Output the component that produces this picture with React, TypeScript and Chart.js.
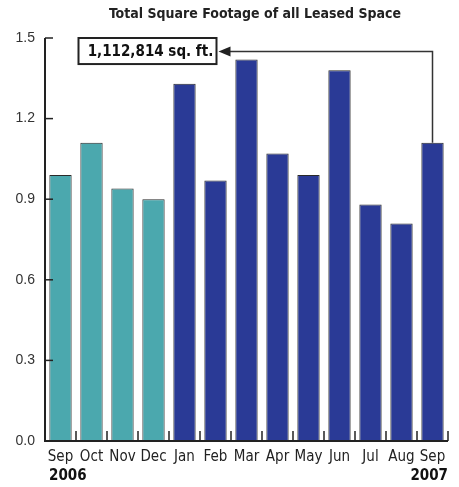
import React, { useEffect, useRef } from "react";
import { Chart, registerables } from "chart.js";

Chart.register(...registerables);

const months = ["Sep", "Oct", "Nov", "Dec", "Jan", "Feb", "Mar", "Apr", "May", "Jun", "Jul", "Aug", "Sep"];
const values = [0.99, 1.11, 0.94, 0.9, 1.33, 0.97, 1.42, 1.07, 0.99, 1.38, 0.88, 0.81, 1.11];
const years = ["2006", "2007"];
const yTicks = [0, 0.3, 0.6, 0.9, 1.2, 1.5];
const title = "Total Square Footage of all Leased Space";
const calloutText = "1,112,814 sq. ft.";
const colors2006 = "#4BA8AE";
const colors2007 = "#2A3A96";

const FONT = "'Liberation Sans Narrow', 'DejaVu Sans Condensed', Arial, sans-serif";

const decor = {
  id: "decor",
  afterDraw(chart: any) {
    const ctx = chart.ctx;
    const area = chart.chartArea;
    const xs = chart.scales.x;
    const ys = chart.scales.y;
    ctx.save();
    // title
    ctx.fillStyle = "#222";
    ctx.font = `bold 14px ${FONT}`;
    ctx.textAlign = "center";
    ctx.textBaseline = "middle";
    ctx.fillText(title, 255, 14);

    // axes
    ctx.strokeStyle = "#222";
    ctx.lineWidth = 2;
    ctx.beginPath();
    ctx.moveTo(area.left, area.top);
    ctx.lineTo(area.left, area.bottom);
    ctx.lineTo(area.right, area.bottom);
    ctx.stroke();
    // y ticks inward
    ctx.lineWidth = 1.5;
    yTicks.forEach((v) => {
      const y = ys.getPixelForValue(v);
      ctx.beginPath();
      ctx.moveTo(area.left, y);
      ctx.lineTo(area.left + 8, y);
      ctx.stroke();
    });
    // x ticks between categories pointing up
    for (let i = 0; i < months.length; i++) {
      const x = xs.getPixelForValue(i) + (xs.getPixelForValue(1) - xs.getPixelForValue(0)) / 2;
      ctx.beginPath();
      ctx.moveTo(x, area.bottom);
      ctx.lineTo(x, area.bottom - 10);
      ctx.stroke();
    }

    // years
    ctx.font = `bold 15px ${FONT}`;
    ctx.textBaseline = "middle";
    ctx.textAlign = "left";
    ctx.fillStyle = "#111";
    ctx.fillText(years[0], area.left + 4, 476);
    ctx.textAlign = "right";
    ctx.fillText(years[1], area.right, 476);

    // callout
    const lastIdx = values.length - 1;
    const bx = xs.getPixelForValue(lastIdx);
    const by = ys.getPixelForValue(values[lastIdx]);
    const ly = ys.getPixelForValue(1.45);
    const boxL = xs.getPixelForValue(1) - 13;
    const boxR = boxL + 138;
    const boxT = ys.getPixelForValue(1.5);
    const boxB = ys.getPixelForValue(1.403);
    ctx.fillStyle = "#fff";
    ctx.fillRect(boxL, boxT, boxR - boxL, boxB - boxT);
    ctx.strokeStyle = "#222";
    ctx.lineWidth = 2;
    ctx.strokeRect(boxL, boxT, boxR - boxL, boxB - boxT);
    ctx.fillStyle = "#111";
    ctx.font = `bold 15px ${FONT}`;
    ctx.textAlign = "center";
    ctx.fillText(calloutText, (boxL + boxR) / 2 + 3, (boxT + boxB) / 2 + 1);

    ctx.strokeStyle = "#333";
    ctx.lineWidth = 1.5;
    ctx.beginPath();
    ctx.moveTo(bx, by);
    ctx.lineTo(bx, ly);
    ctx.lineTo(boxR + 12, ly);
    ctx.stroke();
    ctx.fillStyle = "#222";
    ctx.beginPath();
    ctx.moveTo(boxR + 2, ly);
    ctx.lineTo(boxR + 14, ly - 5);
    ctx.lineTo(boxR + 14, ly + 5);
    ctx.closePath();
    ctx.fill();
    ctx.restore();
  },
};

export default function App() {
  const ref = useRef<HTMLCanvasElement>(null);
  useEffect(() => {
    const chart = new Chart(ref.current!, {
      type: "bar",
      data: {
        labels: months,
        datasets: [
          {
            data: values,
            backgroundColor: values.map((_, i) => (i < 4 ? colors2006 : colors2007)),
            borderColor: "#2a2a2a",
            borderWidth: 1,
            barPercentage: 0.72,
            categoryPercentage: 1,
          },
        ],
      },
      options: {
        animation: false,
        responsive: false,
        maintainAspectRatio: false,
        layout: { padding: { top: 38, right: 11, left: 0, bottom: 0 } },
        plugins: { legend: { display: false }, title: { display: false }, tooltip: { enabled: false } },
        scales: {
          x: {
            grid: { display: false, drawTicks: false },
            border: { display: false },
            ticks: { color: "#222", font: { family: FONT, size: 15 }, padding: 7, maxRotation: 0, autoSkip: false },
            afterFit(s: any) {
              s.height = 46;
            },
          },
          y: {
            min: 0,
            max: 1.5,
            grid: { display: false, drawTicks: false },
            border: { display: false },
            ticks: {
              stepSize: 0.3,
              color: "#333",
              font: { family: "'Liberation Sans', Arial, sans-serif", size: 14 },
              padding: 10,
              callback: (v: any) => Number(v).toFixed(1),
            },
            afterFit(s: any) {
              s.width = 45;
            },
          },
        },
      },
      plugins: [decor],
    });
    return () => chart.destroy();
  }, []);
  return (
    <div style={{ position: "absolute", left: 0, top: 0, width: 459, height: 487, background: "#fff" }}>
      <canvas ref={ref} width={459} height={487} />
    </div>
  );
}
